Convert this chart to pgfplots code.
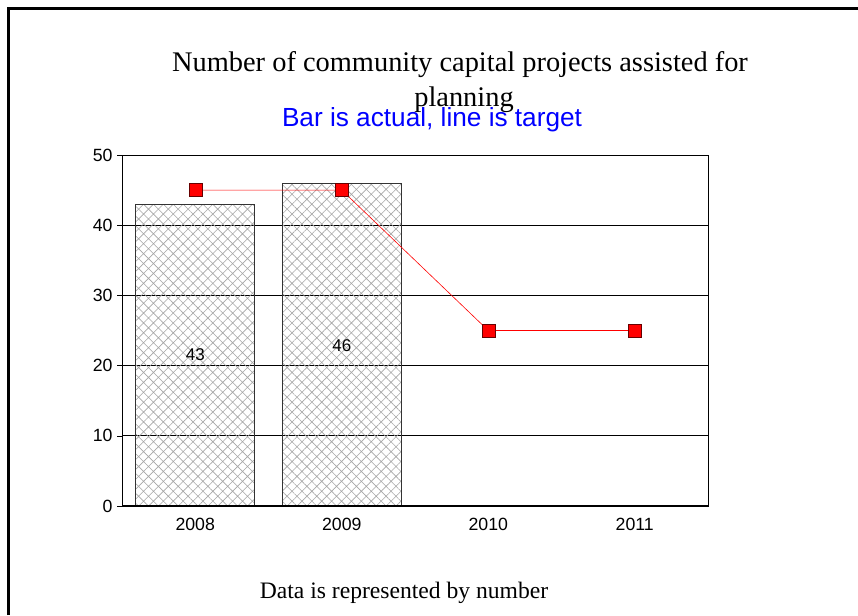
\documentclass[border=0pt]{standalone}
\usepackage{fontspec}
\setmainfont{Liberation Serif}
\newfontfamily\arial{Liberation Sans}
\usepackage{pgfplots}
\pgfplotsset{compat=1.18}
\usetikzlibrary{patterns.meta}
\begin{document}
\begin{tikzpicture}[x=1pt,y=1pt]
\path[use as bounding box] (0,0) rectangle (858,615);
\fill[white] (0,0) rectangle (858,615);
\draw[line width=3pt] (8,0) -- (8,606) -- (858,606);
\node[font=\fontsize{28.4}{32}\selectfont, anchor=base, inner sep=0pt] at (460,543) {Number of community capital projects assisted for};
\node[font=\fontsize{28.4}{32}\selectfont, anchor=base, inner sep=0pt] at (464,508) {planning};
\node[font=\arial\fontsize{26.2}{30}\selectfont, text=blue, anchor=base, inner sep=0pt] at (432,488) {Bar is actual, line is target};
\node[font=\fontsize{23.6}{27}\selectfont, anchor=base, inner sep=0pt] at (404,17) {Data is represented by number};
\begin{axis}[
  at={(122pt,109pt)}, anchor=south west,
  scale only axis, width=586pt, height=351pt,
  xmin=-0.5, xmax=3.5, ymin=0, ymax=50,
  xtick={0,1,2,3}, xticklabels={2008,2009,2010,2011},
  ytick={0,10,20,30,40,50},
  ytick pos=left,
  ymajorgrids, grid style={black, line width=0.6pt},
  major x tick style={draw=none},
  ytick style={black}, tick align=outside, major tick length=5pt,
  axis line style={black, line width=0.8pt},
  ticklabel style={font=\arial\fontsize{17.7}{20}\selectfont},
  /pgf/number format/assume math mode=true,
  xticklabel style={yshift=-4pt},
  yticklabel style={xshift=-1pt},
  clip=false,
]
\addplot[ybar, bar width=119pt, draw=black!80, line width=0.6pt,
  pattern={Hatch[angle=45,distance=7pt,line width=0.6pt]}, pattern color=black!35]
  coordinates {(0,43) (1,46)};
\addplot[red, line width=0.6pt, mark=square*, mark size=6.5pt,
  mark options={fill=red, draw=red!40!black, line width=0.5pt}]
  coordinates {(0,45) (1,45) (2,25) (3,25)};
\node[font=\arial\fontsize{17}{20}\selectfont] at (axis cs:0,21.5) {43};
\node[font=\arial\fontsize{17}{20}\selectfont] at (axis cs:1,22.9) {46};
\draw[black, line width=1.6pt] (axis cs:-0.5,0) -- (axis cs:3.5,0);
\end{axis}
\end{tikzpicture}
\end{document}
